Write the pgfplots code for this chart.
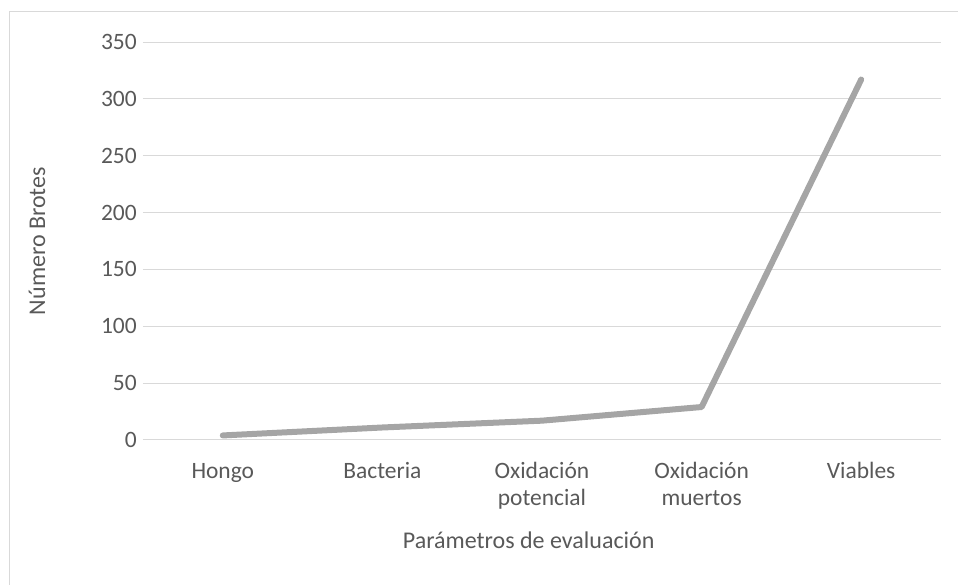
\documentclass[border=0pt]{standalone}
\usepackage{pgfplots}
\pgfplotsset{compat=1.18}
\usepackage{fontspec}
\setmainfont{Carlito}
\definecolor{gridc}{HTML}{D9D9D9}
\definecolor{txtc}{HTML}{595959}
\definecolor{linec}{HTML}{A5A5A5}
\begin{document}
\begin{tikzpicture}
\useasboundingbox (-107.25pt,-108.75pt) rectangle (611.25pt,330pt);
\draw[gridc, line width=0.75pt] (-99.75pt,-130pt) -- (-99.75pt,321pt) -- (640pt,321pt);
\begin{axis}[
  anchor=south west, at={(0,0)},
  scale only axis,
  width=598.5pt, height=298.5pt,
  xmin=-0.5, xmax=4.5, ymin=0, ymax=350,
  ytick={0,50,...,350},
  xtick={0,1,2,3,4},
  xticklabels={Hongo,Bacteria,{\begin{tabular}[t]{@{}c@{}}Oxidación\\potencial\end{tabular}},{\begin{tabular}[t]{@{}c@{}}Oxidación\\muertos\end{tabular}},Viables},
  ymajorgrids,
  grid style={gridc, line width=0.75pt},
  axis line style={draw=none},
  major tick length=0pt,
  /pgf/number format/assume math mode=true,
  ticklabel style={font=\fontsize{17.6}{20.5}\selectfont, text=txtc},
  yticklabel style={anchor=east, inner sep=0pt, xshift=-4.5pt},
  xticklabel style={anchor=base, inner sep=0pt, yshift=-29pt},
  xlabel={Parámetros de evaluación},
  ylabel={Número Brotes},
  label style={font=\fontsize{18}{22}\selectfont, text=txtc},
  xlabel style={at={(axis description cs:0.5,0)}, anchor=base, inner sep=0pt, yshift=-81.5pt, xshift=-10pt},
  ylabel style={at={(axis description cs:-0.1328,0.5)}, anchor=center, inner sep=0pt},
  clip=false,
]
\addplot[linec, line width=4.5pt, line cap=round, line join=round] coordinates {
  (0,4) (1,11) (2,17) (3,29) (4,317)
};
\end{axis}
\end{tikzpicture}
\end{document}
